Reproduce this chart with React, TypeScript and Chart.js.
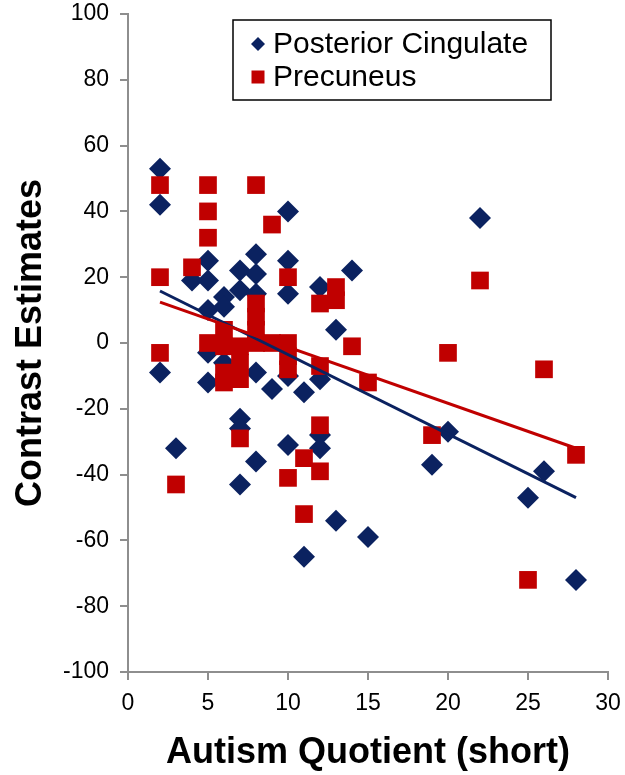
import React, { useEffect, useRef } from 'react';
import { Chart, registerables } from 'chart.js';

Chart.register(...registerables);

const seriesNames = ['Posterior Cingulate', 'Precuneus'];

const cingulateX = [2, 2, 2, 3, 4, 5, 5, 5, 5, 5, 6, 6, 6, 7, 7, 7, 7, 7, 8, 8, 8, 8, 8, 9, 10, 10, 10, 10, 10, 11, 11, 12, 12, 12, 12, 13, 13, 14, 15, 19, 20, 22, 25, 26, 28];
const cingulateY = [53, 42, -9, -32, 19, 25, 19, 10, -3, -12, 14, 11, -6, 22, 16, -23, -26, -43, 27, 21, 15, -9, -36, -14, 40, 25, 15, -10, -31, -15, -65, 17, -11, -28, -32, 4, -54, 22, -59, -37, -27, 38, -47, -39, -72];

const precuneusX = [2, 2, 2, 3, 4, 5, 5, 5, 5, 6, 6, 6, 6, 7, 7, 7, 7, 8, 8, 8, 8, 8, 9, 9, 10, 10, 10, 10, 10, 11, 11, 12, 12, 12, 12, 13, 13, 14, 15, 19, 20, 22, 25, 26, 28];
const precuneusY = [48, 20, -3, -43, 23, 48, 40, 32, 0, 4, -1, -9, -12, -1, -6, -11, -29, 48, 12, 8, 4, 0, 36, 0, 20, 0, -4, -8, -41, -35, -52, 12, -7, -25, -39, 17, 13, -1, -12, -28, -3, 19, -72, -8, -34];

const trendX = [2, 28];
const cingulateTrend = [15.8, -47];
const precuneusTrend = [12.4, -32];

const xTicks = [0, 5, 10, 15, 20, 25, 30];
const yTicks = [-100, -80, -60, -40, -20, 0, 20, 40, 60, 80, 100];

const NAVY = '#0b2260';
const RED = '#c00000';
const FONT = "'Liberation Sans', Arial, sans-serif";
const AXIS = '#8e8e8e';

const toPoints = (xs: number[], ys: number[]) => xs.map((x, i) => ({ x, y: ys[i] }));

const boxLegend = {
  id: 'boxLegend',
  afterDraw(chart: any) {
    const ctx = chart.ctx as CanvasRenderingContext2D;
    const left = 233;
    const top = 20;
    const w = 318;
    const h = 80;
    ctx.save();
    ctx.fillStyle = '#ffffff';
    ctx.fillRect(left, top, w, h);
    ctx.strokeStyle = '#000000';
    ctx.lineWidth = 1.5;
    ctx.strokeRect(left, top, w, h);
    [0, 1].forEach((di, r) => {
      const ds = chart.data.datasets[di];
      const cy = top + 24 + r * 33;
      const mx = left + 25;
      ctx.fillStyle = ds.backgroundColor;
      if (ds.pointStyle === 'rectRot') {
        const s = 7;
        ctx.beginPath();
        ctx.moveTo(mx - s, cy);
        ctx.lineTo(mx, cy - s);
        ctx.lineTo(mx + s, cy);
        ctx.lineTo(mx, cy + s);
        ctx.closePath();
        ctx.fill();
      } else {
        ctx.fillRect(mx - 6.5, cy - 6.5, 13, 13);
      }
      ctx.fillStyle = '#000000';
      ctx.font = `30px ${FONT}`;
      ctx.textBaseline = 'middle';
      ctx.textAlign = 'left';
      ctx.fillText(ds.label, mx + 15, cy + 1);
    });
    ctx.restore();
  },
};

export default function App() {
  const canvasRef = useRef<HTMLCanvasElement | null>(null);

  useEffect(() => {
    if (!canvasRef.current) return;
    const chart = new Chart(canvasRef.current, {
      type: 'scatter',
      data: {
        datasets: [
          {
            label: seriesNames[0],
            data: toPoints(cingulateX, cingulateY),
            pointStyle: 'rectRot',
            pointRadius: 11,
            backgroundColor: NAVY,
            borderColor: NAVY,
            borderWidth: 0,
            order: 3,
          } as any,
          {
            label: seriesNames[1],
            data: toPoints(precuneusX, precuneusY),
            pointStyle: 'rect',
            pointRadius: 12.5,
            backgroundColor: RED,
            borderColor: RED,
            borderWidth: 0,
            order: 2,
          },
          {
            label: 'trend1',
            type: 'line',
            data: toPoints(trendX, cingulateTrend),
            borderColor: NAVY,
            borderWidth: 3,
            pointRadius: 0,
            showLine: true,
            fill: false,
            order: 1,
          } as any,
          {
            label: 'trend2',
            type: 'line',
            data: toPoints(trendX, precuneusTrend),
            borderColor: RED,
            borderWidth: 3,
            pointRadius: 0,
            showLine: true,
            fill: false,
            order: 0,
          } as any,
        ],
      },
      options: {
        animation: false,
        responsive: true,
        maintainAspectRatio: false,
        layout: { padding: { top: 14, right: 17, left: 0, bottom: 0 } },
        plugins: {
          legend: { display: false },
          tooltip: { enabled: false },
        },
        scales: {
          x: {
            type: 'linear',
            min: 0,
            max: 30,
            afterBuildTicks: (s: any) => {
              s.ticks = xTicks.map((v) => ({ value: v }));
            },
            afterFit: (s: any) => {
              s.height = 103;
              s.paddingLeft = 0;
              s.paddingRight = 0;
            },
            grid: { display: true, drawOnChartArea: false, drawTicks: true, tickLength: 8, color: AXIS, lineWidth: 2 },
            border: { display: true, color: AXIS, width: 2 },
            ticks: { font: { family: FONT, size: 23 }, color: '#000', padding: 10, maxRotation: 0, autoSkip: false },
            title: {
              display: true,
              text: 'Autism Quotient (short)',
              font: { family: FONT, size: 36, weight: 'bold', lineHeight: 1 },
              color: '#000',
              padding: { top: 0, bottom: 4 },
            },
          },
          y: {
            type: 'linear',
            min: -100,
            max: 100,
            afterBuildTicks: (s: any) => {
              s.ticks = yTicks.map((v) => ({ value: v }));
            },
            afterFit: (s: any) => {
              s.width = 128;
              s.paddingTop = 0;
              s.paddingBottom = 0;
            },
            grid: { display: true, drawOnChartArea: false, drawTicks: true, tickLength: 8, color: AXIS, lineWidth: 2 },
            border: { display: true, color: AXIS, width: 2 },
            ticks: { font: { family: FONT, size: 23 }, color: '#000', padding: 11, autoSkip: false },
            title: {
              display: true,
              text: 'Contrast Estimates',
              font: { family: FONT, size: 36, weight: 'bold', lineHeight: 1 },
              color: '#000',
              padding: { top: 13, bottom: 0 },
            },
          },
        },
      },
      plugins: [boxLegend],
    });
    return () => chart.destroy();
  }, []);

  return (
    <div style={{ position: 'fixed', left: 0, top: 0, width: 625, height: 775, background: '#fff' }}>
      <canvas ref={canvasRef} style={{ display: 'block' }} />
    </div>
  );
}
